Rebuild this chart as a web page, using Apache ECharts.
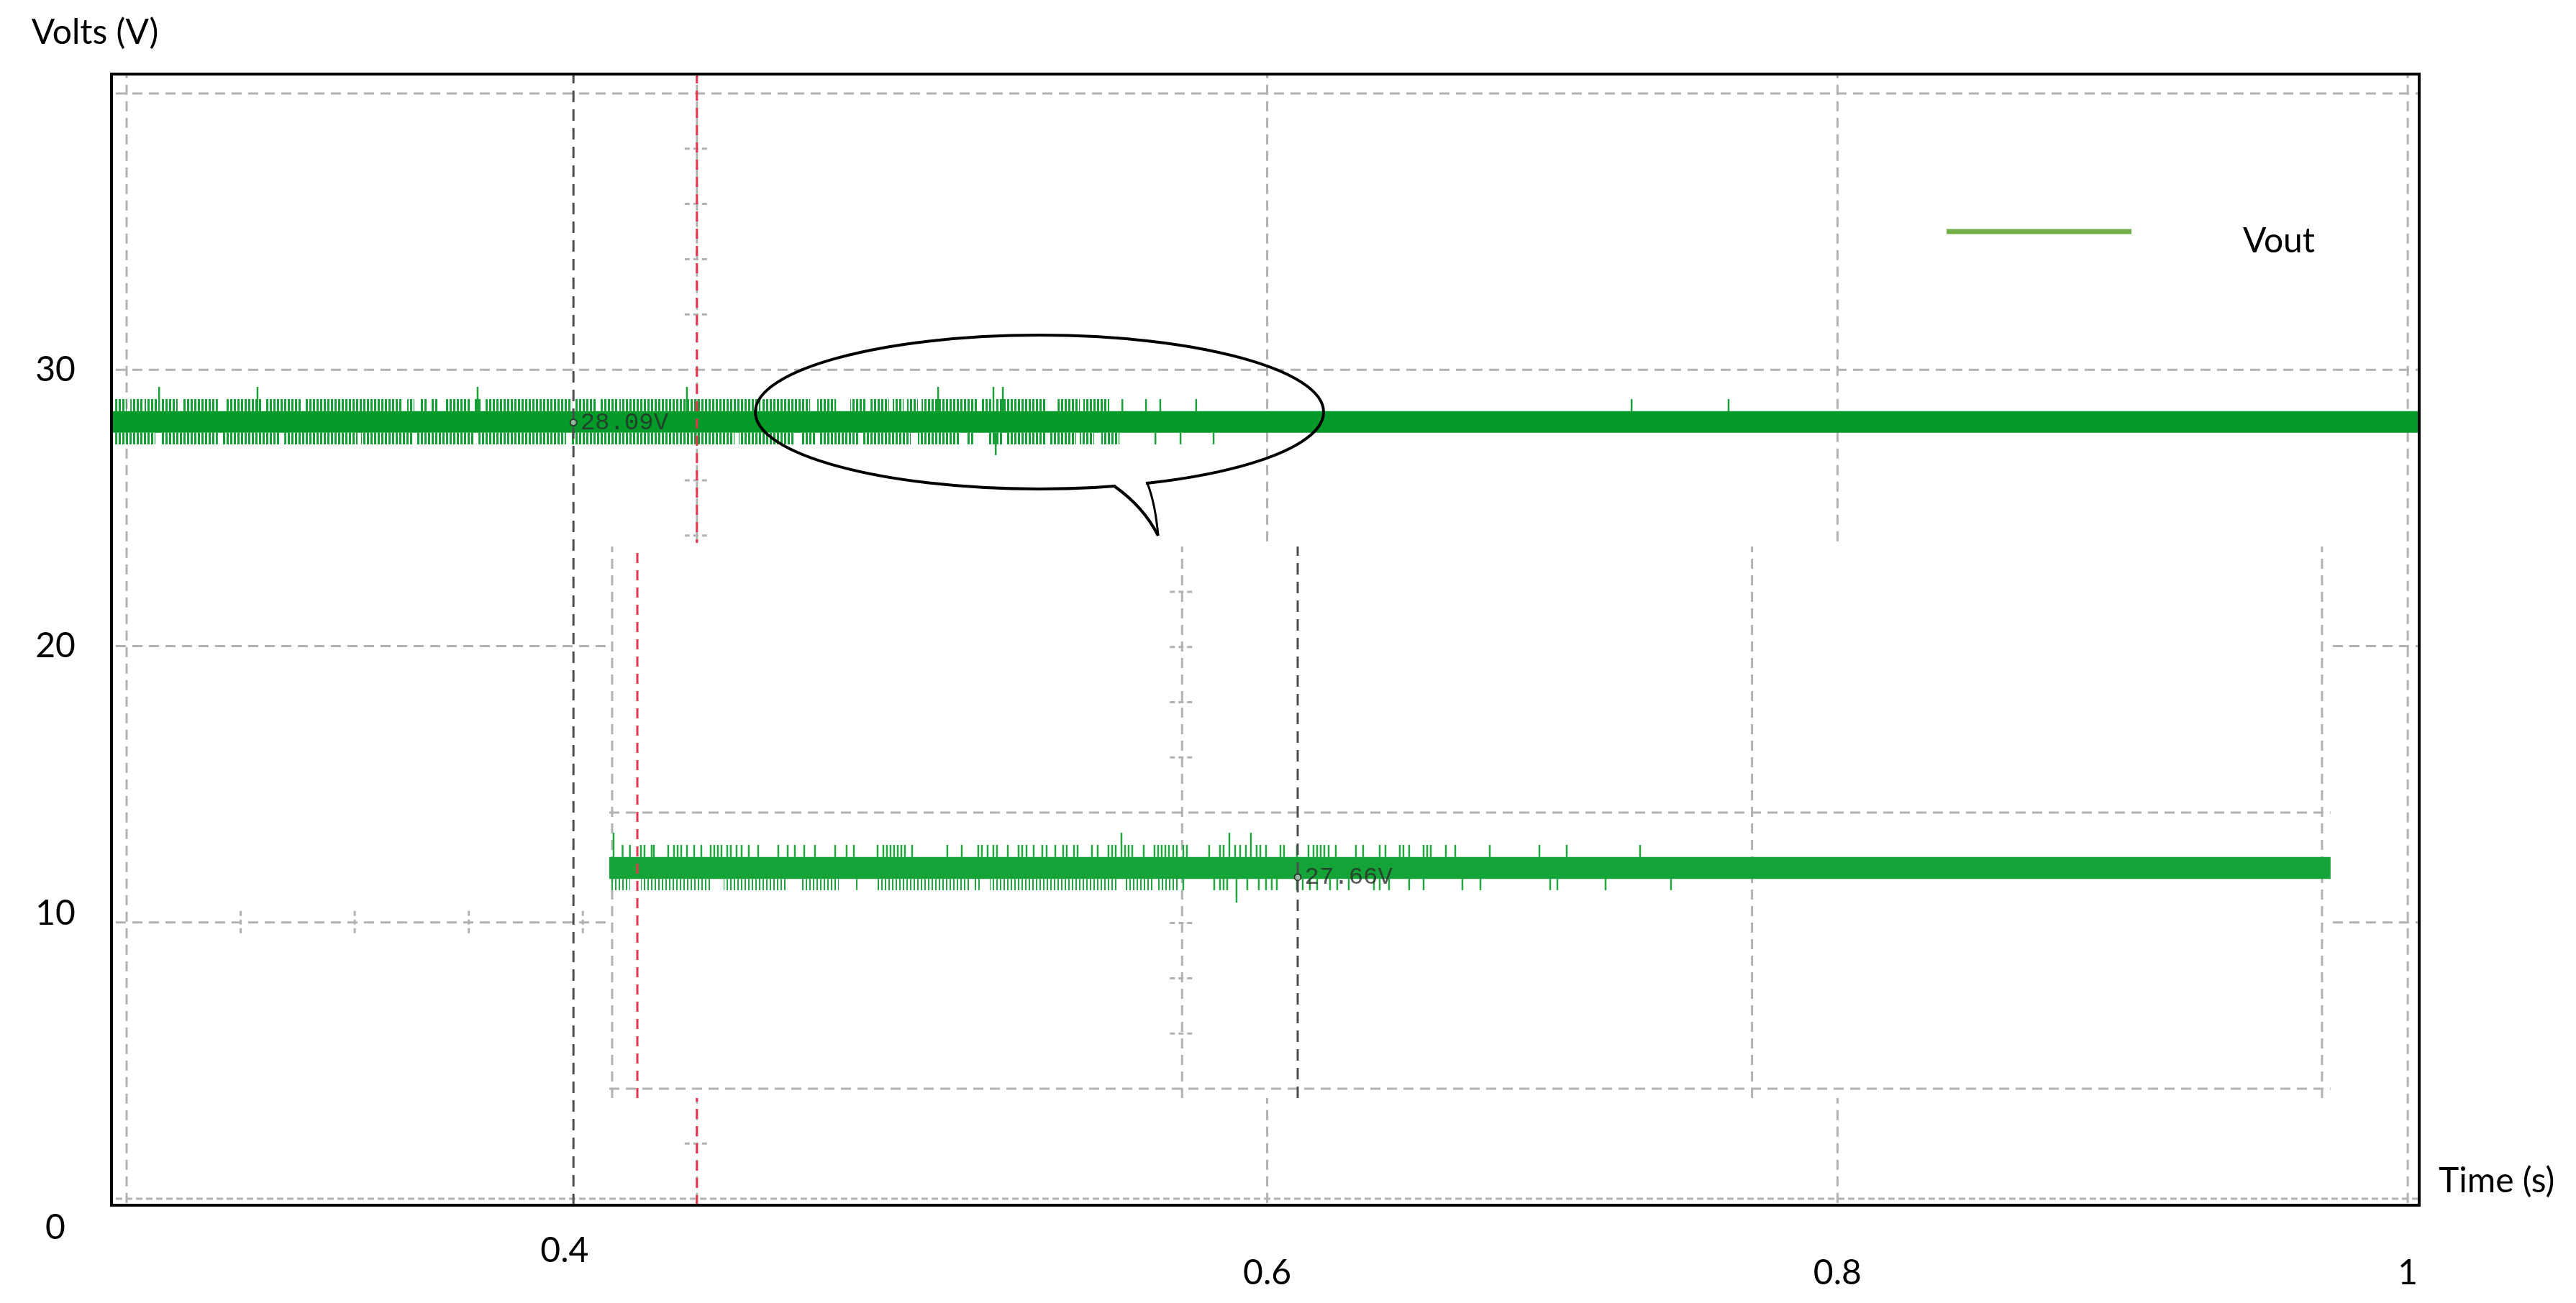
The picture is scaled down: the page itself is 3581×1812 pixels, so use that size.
<!DOCTYPE html>
<html>
<head>
<meta charset="utf-8">
<title>Vout</title>
<script src="https://cdn.jsdelivr.net/npm/echarts@6.0.0/dist/echarts.min.js"></script>
<style>
  html, body { margin: 0; padding: 0; background: #fff; }
  #chart { width: 3581px; height: 1812px; }
</style>
</head>
<body>
<div id="chart"></div>
<script>
// ---- main scope (time in s, volts) ----
var xTickLabels = [0.4, 0.6, 0.8, 1];
var yTickLabels = [0, 10, 20, 30];
var mainGridX = [0.2, 0.4, 0.6, 0.8, 1.0];
var mainGridY = [0, 10, 20, 30, 40];
var mainMinorY = [2, 4, 6, 8, 12, 14, 16, 18, 22, 24, 26, 28, 32, 34, 36, 38]; // along the 0.4 s line
var mainMinorX = [0.24, 0.28, 0.32, 0.36, 0.44, 0.48, 0.52, 0.56]; // along the 10 V line
var mainCursorX = [0.3567, 0.4]; // dark, red
var mainReadout = [[0.3567, 28.09]];

// Vout ripple band [from, to, low, high]
var mainBand = [[0.1947, 1.004, 27.72, 28.50]];
// stretches where the ripple teeth are dense [from, to]
var mainUpperTeeth = [[0.1960, 0.2000], [0.2013, 0.2056], [0.2063, 0.2108], [0.2121, 0.2179], [0.2199, 0.2320],
  [0.2346, 0.2474], [0.2487, 0.2611], [0.2623, 0.2964], [0.2984, 0.3009], [0.3029, 0.3055], [0.3067, 0.3092],
  [0.3118, 0.3208], [0.3221, 0.3246], [0.3259, 0.3562], [0.3574, 0.3645], [0.3658, 0.3723], [0.3728, 0.4223],
  [0.4230, 0.4397], [0.4422, 0.4488], [0.4538, 0.4596], [0.4609, 0.4674], [0.4687, 0.4725], [0.4737, 0.4775],
  [0.4788, 0.4982], [0.4995, 0.5032], [0.5045, 0.5227], [0.5265, 0.5343], [0.5355, 0.5446]];
var mainLowerTeeth = [[0.1960, 0.2101], [0.2121, 0.2320], [0.2333, 0.2540], [0.2553, 0.2810], [0.2822, 0.3002],
  [0.3014, 0.3221], [0.3234, 0.3541], [0.3557, 0.4132], [0.4147, 0.4339], [0.4364, 0.4417], [0.4430, 0.4571],
  [0.4583, 0.4750], [0.4775, 0.4919], [0.4944, 0.4969], [0.5020, 0.5073], [0.5085, 0.5227], [0.5239, 0.5330],
  [0.5343, 0.5393], [0.5418, 0.5482]];
// single spikes [t, low, high]
var mainSpikes = [[0.2114, 28.5, 29.38], [0.2459, 28.5, 29.38], [0.3231, 28.5, 29.38], [0.3965, 28.5, 29.38],
  [0.4846, 28.5, 29.38], [0.5040, 28.5, 29.38], [0.5073, 28.5, 29.38],
  [0.5492, 28.5, 28.94], [0.5575, 28.5, 28.94], [0.5625, 28.5, 28.94], [0.5751, 28.5, 28.94],
  [0.7278, 28.5, 28.94], [0.7618, 28.5, 28.94],
  [0.5608, 27.3, 27.72], [0.5696, 27.3, 27.72], [0.5812, 27.3, 27.72], [0.5048, 26.91, 27.72]];

// ---- inset capture (x in divisions, volts) ----
var insetGridX = [0, 1, 2, 3];
var insetGridY = [20, 30];
var insetMinorY = [22, 24, 26, 28, 32, 34, 36, 38];
var insetCursorX = [0.0442, 1.2028]; // red, dark
var insetReadout = [[1.2028, 27.66]];
var insetBand = [[-0.005, 3.015, 27.60, 28.39]];
var insetUpperTeeth = [0.0183, 0.0312, 0.0505, 0.0568, 0.0694, 0.0732, 0.0984, 0.1085, 0.1149, 0.1212, 0.1313,
  0.1439, 0.1565, 0.1729, 0.1792, 0.1855, 0.1918, 0.2019, 0.2082, 0.2183, 0.2272, 0.2398, 0.2562, 0.2915, 0.3080,
  0.3206, 0.3370, 0.3559, 0.3913, 0.4114, 0.4241, 0.4657, 0.4758, 0.4821, 0.4884, 0.4947, 0.5011, 0.5074, 0.5137,
  0.5263, 0.5881, 0.6134, 0.6424, 0.6487, 0.6588, 0.6689, 0.6752, 0.6942, 0.7131, 0.7194, 0.7270, 0.7396, 0.7547,
  0.7623, 0.7775, 0.7913, 0.7976, 0.8103, 0.8166, 0.8418, 0.8519, 0.8708, 0.8772, 0.8835, 0.8999, 0.9062, 0.9125,
  0.9327, 0.9516, 0.9579, 0.9642, 0.9706, 0.9769, 0.9844, 0.9907, 1.0021, 1.0084, 1.0475, 1.0665, 1.0728, 1.0930,
  1.1018, 1.1119, 1.1308, 1.1372, 1.1472, 1.1725, 1.1788, 1.2015, 1.2217, 1.2306, 1.2369, 1.2432, 1.2495, 1.2571,
  1.2697, 1.3050, 1.3176, 1.3467, 1.3568, 1.3820, 1.3883, 1.3984, 1.4237, 1.4300, 1.4363, 1.4628, 1.4792, 1.5398,
  1.6269, 1.6748, 1.8035];
var insetLowerTeeth = [1.0021, 1.0564, 1.0665, 1.0728, 1.0791, 1.1144, 1.1346, 1.1472, 1.1573, 1.1662, 1.2015,
  1.2116, 1.2242, 1.2369, 1.2596, 1.2722, 1.2924, 1.3366, 1.3467, 1.3631, 1.3984, 1.4237, 1.4918, 1.5234, 1.6458,
  1.6584, 1.7430, 1.8578];
var insetLowerBlocks = [[-0.0013, 0.0316], [0.0505, 0.1729], [0.1956, 0.3080], [0.3332, 0.3976], [0.4241, 0.4304],
  [0.4657, 0.6298], [0.6361, 0.6487], [0.6626, 0.8873], [0.8999, 0.9516], [0.9579, 0.9958]];
var insetSpikes = [[0.0025, 28.39, 29.27], [0.8936, 28.39, 29.27], [1.0829, 28.39, 29.27], [1.1207, 28.39, 29.27],
  [1.0955, 26.74, 27.60]];

// axis ranges (frame edges)
var mainXMin = 0.1947, mainXMax = 1.004, mainYMin = -0.234, mainYMax = 40.70;
var insetXMin = -0.005, insetXMax = 3.019, insetYMin = 19.66, insetYMax = 39.77;

var FONT = 'Lato';
var gridStyle = { stroke: '#b2b2b2', lineWidth: 3, lineDash: [14, 9] };
var darkCursor = { stroke: '#4d4d4d', lineWidth: 3, lineDash: [16, 10] };
var redCursor = { stroke: '#e8344e', lineWidth: 3, lineDash: [14, 10] };

function copy(s) { return Object.assign({}, s); }

// striped fill so dense ripple teeth read as thin lines
function stripes(color, on, off) {
  var c = document.createElement('canvas');
  c.width = on + off;
  c.height = 8;
  var g = c.getContext('2d');
  g.fillStyle = color;
  g.fillRect(0, 0, on, 8);
  return { type: 'pattern', image: c, repeat: 'repeat' };
}

// vertical segments at each x, from lo to hi
function vLines(xs, lo, hi, style, idx, z) {
  return {
    type: 'custom', xAxisIndex: idx, yAxisIndex: idx, z: z, silent: true,
    data: xs.map(function (v) { return [v, lo]; }),
    renderItem: function (params, api) {
      var a = api.coord([api.value(0), lo]);
      var b = api.coord([api.value(0), hi]);
      var s = typeof style === 'function' ? style(params.dataIndex) : style;
      return { type: 'line', shape: { x1: a[0], y1: a[1], x2: b[0], y2: b[1] }, style: copy(s) };
    }
  };
}

// horizontal lines at each y, from x0 to x1
function hLines(ys, x0, x1, style, idx, z) {
  return {
    type: 'custom', xAxisIndex: idx, yAxisIndex: idx, z: z, silent: true,
    data: ys.map(function (v) { return [x0, v]; }),
    renderItem: function (params, api) {
      var a = api.coord([x0, api.value(1)]);
      var b = api.coord([x1, api.value(1)]);
      var s = typeof style === 'function' ? style(api.value(1)) : style;
      return { type: 'line', shape: { x1: a[0], y1: a[1], x2: b[0], y2: b[1] }, style: copy(s) };
    }
  };
}

// short scope ticks, horizontal ones along x = at, or vertical ones along y = at
function minorTicks(vals, at, horizontal, idx, z) {
  return {
    type: 'custom', xAxisIndex: idx, yAxisIndex: idx, z: z, silent: true,
    data: vals.map(function (v) { return horizontal ? [at, v] : [v, at]; }),
    renderItem: function (params, api) {
      var p = api.coord([api.value(0), api.value(1)]);
      var shape = horizontal
        ? { x1: p[0] - 17, y1: p[1], x2: p[0] + 17, y2: p[1] }
        : { x1: p[0], y1: p[1] - 16, x2: p[0], y2: p[1] + 16 };
      return { type: 'line', shape: shape, style: { stroke: '#b2b2b2', lineWidth: 3, lineDash: [7, 5] } };
    }
  };
}

// filled stretches [from, to] between lo and hi, or [from, to, lo, hi]
function blocks(list, lo, hi, fill, idx, z, name) {
  return {
    type: 'custom', name: name, xAxisIndex: idx, yAxisIndex: idx, z: z, silent: true,
    data: list,
    renderItem: function (params, api) {
      var full = list[params.dataIndex].length > 2;
      var l = full ? api.value(2) : lo;
      var h = full ? api.value(3) : hi;
      var a = api.coord([api.value(0), h]);
      var b = api.coord([api.value(1), l]);
      return { type: 'rect', shape: { x: a[0], y: a[1], width: b[0] - a[0], height: b[1] - a[1] }, style: { fill: fill } };
    }
  };
}

// spikes [t, lo, hi]
function spikes(list, color, idx, z) {
  return {
    type: 'custom', xAxisIndex: idx, yAxisIndex: idx, z: z, silent: true,
    data: list,
    renderItem: function (params, api) {
      var a = api.coord([api.value(0), api.value(1)]);
      var b = api.coord([api.value(0), api.value(2)]);
      return { type: 'line', shape: { x1: a[0], y1: a[1], x2: b[0], y2: b[1] }, style: { stroke: color, lineWidth: 2.5 } };
    }
  };
}

function readout(data, idx, z) {
  return {
    type: 'scatter', xAxisIndex: idx, yAxisIndex: idx, z: z, silent: true,
    data: data, symbol: 'circle', symbolSize: 9,
    itemStyle: { color: '#bbbbbb', borderColor: '#222', borderWidth: 2 },
    label: {
      show: true, position: 'right', distance: 4,
      formatter: function (p) { return p.value[1].toFixed(2) + 'V'; },
      fontFamily: 'Liberation Mono', fontSize: 34, color: '#2a2a2a'
    }
  };
}

var chart = echarts.init(document.getElementById('chart'));

var labelText = { fontFamily: FONT, fontSize: 48, color: '#000' };

chart.setOption({
  animation: false,
  backgroundColor: '#fff',
  grid: [
    { left: 155, top: 103, right: 218, bottom: 136, show: true, borderColor: '#000', borderWidth: 4,
      backgroundColor: 'transparent', z: 4 },
    { left: 847, top: 755, right: 338, bottom: 285, show: true, borderWidth: 0, backgroundColor: '#fff', z: 5 }
  ],
  xAxis: [
    {
      gridIndex: 0, type: 'value', min: mainXMin, max: mainXMax,
      axisLine: { show: false }, axisTick: { show: false }, splitLine: { show: false },
      axisLabel: Object.assign({
        customValues: xTickLabels, margin: 95, verticalAlign: 'middle',
        formatter: function (v) { return v === 0.4 ? '{left|0.4}' : String(v); },
        rich: { left: Object.assign({ padding: [0, 368, 62, 0] }, labelText) }
      }, labelText),
      name: 'Time (s)', nameLocation: 'end', nameGap: 27,
      nameTextStyle: Object.assign({ align: 'left', verticalAlign: 'bottom' }, labelText)
    },
    { gridIndex: 1, type: 'value', min: insetXMin, max: insetXMax, show: false }
  ],
  yAxis: [
    {
      gridIndex: 0, type: 'value', min: mainYMin, max: mainYMax,
      axisLine: { show: false }, axisTick: { show: false }, splitLine: { show: false },
      axisLabel: Object.assign({
        customValues: yTickLabels, margin: 78, align: 'center', verticalAlign: 'middle',
        formatter: function (v) { return v === 0 ? '{low|0}' : v === 10 ? '{up|10}' : String(v); },
        rich: {
          low: Object.assign({ padding: [82, 0, 0, 0] }, labelText),
          up: Object.assign({ padding: [0, 0, 24, 0] }, labelText)
        }
      }, labelText),
      name: 'Volts (V)', nameLocation: 'end', nameGap: 57,
      nameTextStyle: Object.assign({ align: 'center', verticalAlign: 'middle', padding: [0, 46, 0, 0] }, labelText)
    },
    { gridIndex: 1, type: 'value', min: insetYMin, max: insetYMax, show: false }
  ],
  legend: {
    data: [{ name: 'Vout', itemStyle: { color: '#70ad47' } }],
    // bar sits in the top of a taller icon box so the label lands a little lower
    left: 2701, top: 307, itemWidth: 257, itemHeight: 35, selectedMode: false,
    icon: 'path://M0,0 H257 V7 H0 Z M0,34.9 H0.1 V35 H0 Z',
    textStyle: Object.assign({ padding: [0, 0, 0, 150] }, labelText)
  },
  graphic: [
    // speech-bubble callout: ellipse, gap where the tail joins, tail edges
    { type: 'ellipse', z: 20, silent: true, shape: { cx: 1445, cy: 573, rx: 395, ry: 107 },
      style: { fill: 'none', stroke: '#000', lineWidth: 4 } },
    { type: 'line', z: 21, silent: true, shape: { x1: 1551, y1: 677, x2: 1593, y2: 674 },
      style: { stroke: '#fff', lineWidth: 9 } },
    { type: 'bezierCurve', z: 22, silent: true, shape: { x1: 1549, y1: 676, cpx1: 1590, cpy1: 705, x2: 1610, y2: 745 },
      style: { fill: 'none', stroke: '#000', lineWidth: 4 } },
    { type: 'bezierCurve', z: 22, silent: true, shape: { x1: 1595, y1: 672, cpx1: 1606, cpy1: 700, x2: 1610, y2: 745 },
      style: { fill: 'none', stroke: '#000', lineWidth: 3 } }
  ],
  series: [
    // main scope
    vLines(mainGridX, -0.15, mainYMax, gridStyle, 0, 1),
    hLines(mainGridY, 0.1962, mainXMax, function (v) {
      return v === 0 ? { stroke: '#b2b2b2', lineWidth: 3, lineDash: [9, 5] } : gridStyle;
    }, 0, 1),
    minorTicks(mainMinorY, 0.4, true, 0, 1),
    minorTicks(mainMinorX, 10, false, 0, 1),
    blocks(mainBand, 0, 0, '#039a29', 0, 2, 'Vout'),
    blocks(mainUpperTeeth, 28.5, 28.94, stripes('#12a034', 3, 2), 0, 2),
    blocks(mainLowerTeeth, 27.3, 27.72, stripes('#12a034', 3, 2), 0, 2),
    spikes(mainSpikes, '#1c9f3a', 0, 2),
    vLines(mainCursorX, mainYMin, mainYMax, function (i) { return i === 0 ? darkCursor : redCursor; }, 0, 3),
    readout(mainReadout, 0, 4),

    // inset capture
    vLines(insetGridX, 19.66, 39.64, gridStyle, 1, 6),
    hLines(insetGridY, insetXMin, 3.015, gridStyle, 1, 6),
    minorTicks(insetMinorY, 1, true, 1, 6),
    blocks(insetBand, 0, 0, '#14a336', 1, 7),
    vLines(insetUpperTeeth, 28.39, 28.83, { stroke: '#22a63f', lineWidth: 2.5 }, 1, 7),
    vLines(insetLowerTeeth, 27.19, 27.60, { stroke: '#22a63f', lineWidth: 2.5 }, 1, 7),
    blocks(insetLowerBlocks, 27.19, 27.60, stripes('#22a63f', 2, 3), 1, 7),
    spikes(insetSpikes, '#22a63f', 1, 7),
    vLines(insetCursorX, 19.66, 39.64, function (i) { return i === 0 ? redCursor : darkCursor; }, 1, 8),
    readout(insetReadout, 1, 9)
  ]
});
</script>
</body>
</html>
